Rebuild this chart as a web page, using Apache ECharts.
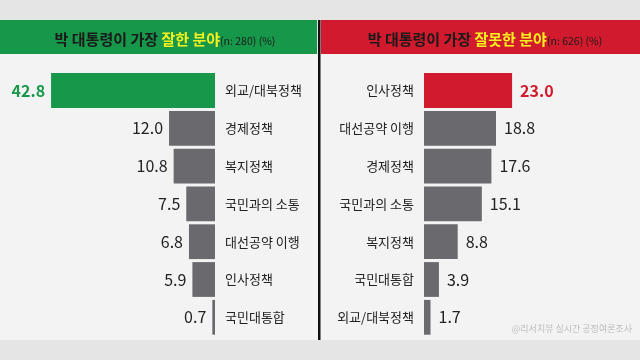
<!DOCTYPE html>
<html><head><meta charset="utf-8">
<script src="https://cdn.jsdelivr.net/npm/echarts@6/dist/echarts.min.js"></script>
<style>html,body{margin:0;padding:0;background:#e5e5e5}#c{width:640px;height:360px}</style>
</head><body><div id="c"></div>
<script>
const leftCategories = ['외교/대북정책','경제정책','복지정책','국민과의 소통','대선공약 이행','인사정책','국민대통합'];
const leftValues = [42.8,12.0,10.8,7.5,6.8,5.9,0.7];
const rightCategories = ['인사정책','대선공약 이행','경제정책','국민과의 소통','복지정책','국민대통합','외교/대북정책'];
const rightValues = [23.0,18.8,17.6,15.1,8.8,3.9,1.7];
const leftTitle = ['박 대통령이 가장 ','잘한 분야','(n: 280) (%)'];
const rightTitle = ['박 대통령이 가장 ','잘못한 분야','(n: 626) (%)'];
const source = '@리서치뷰 실시간 공정여론조사';

const FONT = '"Noto Sans CJK KR", "Noto Sans", sans-serif';
const GREEN = '#16974a', RED = '#d11a2d', GRAY = '#6a6a6e';
const chart = echarts.init(document.getElementById('c'));

function barData(vals, hi){
  return vals.map((v,i)=> i===0 ? {value:v, itemStyle:{color:hi}, label:{color:hi, fontWeight:'bold'}} : v);
}
function titleRich(t){
  return {
    text: '{a|'+t[0]+'}{b|'+t[1]+'}{c|'+t[2]+'}',
    textStyle:{fontWeight:'normal', rich:{
      a:{fontFamily:FONT,fontSize:15,fontWeight:'bold',color:'#1a1a1a'},
      b:{fontFamily:FONT,fontSize:15,fontWeight:'bold',color:'#f5f01e'},
      c:{fontFamily:FONT,fontSize:10.5,fontWeight:'normal',color:'#1a1a1a',padding:[3,0,0,0]}
    }}
  };
}
const lt = titleRich(leftTitle), rt = titleRich(rightTitle);
chart.setOption({
  backgroundColor:'#e5e5e5',
  graphic:[
    {type:'rect', shape:{x:0,y:54,width:640,height:286}, style:{fill:'#f3f3f3'}, z:-10},
    {type:'rect', shape:{x:0,y:20,width:317,height:34}, style:{fill:GREEN}, z:-5},
    {type:'rect', shape:{x:321,y:20,width:319,height:34}, style:{fill:RED}, z:-5},
    {type:'rect', shape:{x:318,y:20,width:2.5,height:320}, style:{fill:'#111'}, z:-4},
    {type:'text', right:8, top:324, style:{text:source, fontFamily:FONT, fontSize:9, fill:'#bdbdbd'}}
  ],
  title:[
    Object.assign({left:160, top:27, textAlign:'center'}, lt),
    Object.assign({left:480, top:27, textAlign:'center'}, rt)
  ],
  grid:[
    {left:23.5, right:425, top:71.6, bottom:23.8},
    {left:424, right:24.5, top:71.6, bottom:23.8}
  ],
  xAxis:[
    {gridIndex:0, type:'value', min:0, max:50, inverse:true, show:false},
    {gridIndex:1, type:'value', min:0, max:50, show:false}
  ],
  yAxis:[
    {gridIndex:0, type:'category', data:leftCategories, inverse:true, position:'right',
     axisLine:{show:false}, axisTick:{show:false},
     axisLabel:{margin:10, fontFamily:FONT, fontSize:13, color:'#222', align:'left'}},
    {gridIndex:1, type:'category', data:rightCategories, inverse:true, position:'left',
     axisLine:{show:false}, axisTick:{show:false},
     axisLabel:{margin:10, fontFamily:FONT, fontSize:13, color:'#222', align:'right'}}
  ],
  series:[
    {type:'bar', xAxisIndex:0, yAxisIndex:0, data:barData(leftValues, GREEN), barCategoryGap:'8%',
     itemStyle:{color:GRAY}, animation:false,
     label:{show:true, position:'left', distance:6, fontFamily:FONT, fontSize:16, color:'#222',
            formatter:p=>p.value.toFixed(1)}},
    {type:'bar', xAxisIndex:1, yAxisIndex:1, data:barData(rightValues, RED), barCategoryGap:'8%',
     itemStyle:{color:GRAY}, animation:false,
     label:{show:true, position:'right', distance:8, fontFamily:FONT, fontSize:16, color:'#222',
            formatter:p=>p.value.toFixed(1)}}
  ]
});
</script></body></html>
